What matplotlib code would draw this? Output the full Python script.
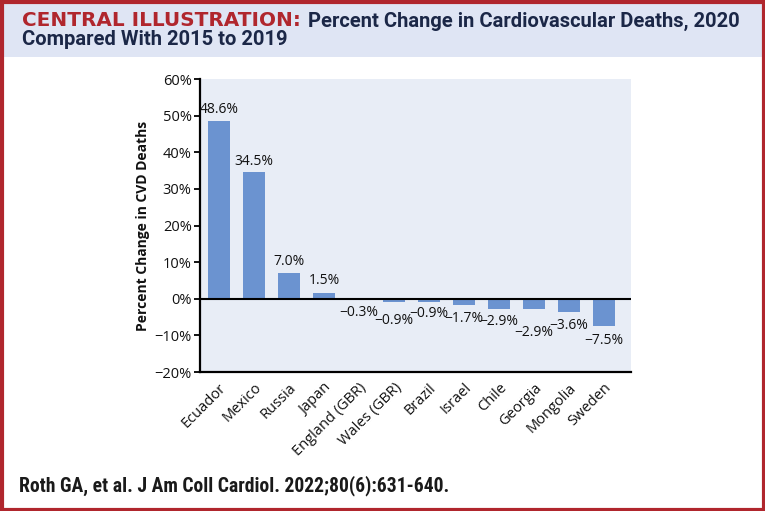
import matplotlib
matplotlib.use("Agg")
import matplotlib.pyplot as plt
from matplotlib import font_manager as fm
from matplotlib import transforms as mtransforms
from matplotlib.patches import Rectangle

countries = ["Ecuador", "Mexico", "Russia", "Japan", "England (GBR)", "Wales (GBR)",
             "Brazil", "Israel", "Chile", "Georgia", "Mongolia", "Sweden"]
values = [48.6, 34.5, 7.0, 1.5, -0.3, -0.9, -0.9, -1.7, -2.9, -2.9, -3.6, -7.5]
value_labels = ["48.6%", "34.5%", "7.0%", "1.5%", "\u22120.3%", "\u22120.9%", "\u22120.9%",
                "\u22121.7%", "\u22122.9%", "\u22122.9%", "\u22123.6%", "\u22127.5%"]
yticks = [-20, -10, 0, 10, 20, 30, 40, 50, 60]
ytick_labels = ["\u221220%", "\u221210%", "0%", "10%", "20%", "30%", "40%", "50%", "60%"]
# vertical position of each value label (data units), as placed in the original
label_y = [51.6, 37.5, 10.1, 4.9, -3.7, -6.0, -4.0, -5.5, -6.2, -9.2, -7.4, -11.3]

title_red = "CENTRAL ILLUSTRATION:"
title_rest1 = "Percent Change in Cardiovascular Deaths, 2020"
title_line2 = "Compared With 2015 to 2019"
citation = "Roth GA, et al. J Am Coll Cardiol. 2022;80(6):631-640."

RED = "#b0262d"
NAVY = "#1b2747"
BAND = "#dfe5f4"
AXBG = "#e8edf6"
BAR = "#6b93d0"
TXT = "#111111"

names = {f.name for f in fm.fontManager.ttflist}
cond = None
for cand in ["Roboto Condensed", "Liberation Sans Narrow", "DejaVu Sans Condensed", "Open Sans Condensed"]:
    if cand in names:
        cond = cand
        break
cond_kw = {"family": cond} if cond else {"family": "DejaVu Sans", "stretch": "condensed"}
body = "Open Sans"

W, H = 765, 511
fig = plt.figure(figsize=(W / 100, H / 100), dpi=100)
fig.patch.set_facecolor("white")


def fx(px):
    return px / W


def fy(py):
    return 1 - py / H


fig.patches.append(Rectangle((fx(3), fy(57)), fx(759), 54 / H, transform=fig.transFigure,
                             facecolor=BAND, edgecolor="none", zorder=0))
fig.patches.append(Rectangle((fx(1.5), fy(509.5)), fx(762), 508 / H, transform=fig.transFigure,
                             facecolor="none", edgecolor=RED, linewidth=3, zorder=5))

ax = fig.add_axes([fx(200), fy(372), fx(431), (372 - 79) / H])
ax.set_facecolor(AXBG)
x = list(range(len(countries)))
ax.bar(x, values, width=0.63, color=BAR, zorder=2)
ax.axhline(0, color="black", linewidth=1.5, zorder=3)
ax.set_ylim(-20, 60)
ax.set_xlim(-0.54, 11.77)
ax.set_yticks(yticks)
ax.set_yticklabels(ytick_labels, fontsize=10.5, family=body, color=TXT)
ax.set_xticks(x)
ax.set_xticklabels(countries, rotation=45, ha="right", va="top", rotation_mode="anchor",
                   fontsize=10.5, family=body, color=TXT)
shift = mtransforms.ScaledTranslation(14 / 100, 4 / 100, fig.dpi_scale_trans)
for lab in ax.get_xticklabels():
    lab.set_transform(lab.get_transform() + shift)
ax.tick_params(axis="x", length=0, pad=6)
ax.tick_params(axis="y", length=4, width=1.3, pad=2)
for s in ["top", "right"]:
    ax.spines[s].set_visible(False)
for s in ["left", "bottom"]:
    ax.spines[s].set_linewidth(1.6)
ax.set_ylabel("Percent Change in CVD Deaths", fontsize=10, fontweight="bold",
              family=body, color=TXT, labelpad=3)
for xi, yl, lab in zip(x, label_y, value_labels):
    ax.text(xi, yl, lab, ha="center", va="center", fontsize=10, family=body, color=TXT)

fig.canvas.draw()
r = fig.canvas.get_renderer()


def fit(t, target_w):
    bb = t.get_window_extent(r)
    t.set_fontsize(t.get_fontsize() * target_w / bb.width)
    return t


t1 = fig.text(fx(22), fy(26.5), title_red, color=RED, fontsize=12, fontweight="bold",
              family="DejaVu Sans", va="baseline")
fit(t1, 278)
t2 = fig.text(fx(308), fy(26.5), title_rest1, color=NAVY, fontsize=12, fontweight="bold",
              va="baseline", family="Roboto")
fit(t2, 430)
t3 = fig.text(fx(22), fy(45), title_line2, color=NAVY, fontsize=t2.get_fontsize(),
              fontweight="bold", va="baseline", family="Roboto")
t4 = fig.text(fx(19), fy(491), citation, color="#1a1a1a", fontsize=12, fontweight="bold",
              va="baseline", **cond_kw)
fit(t4, 428)

fig.savefig("out.png", dpi=100)
